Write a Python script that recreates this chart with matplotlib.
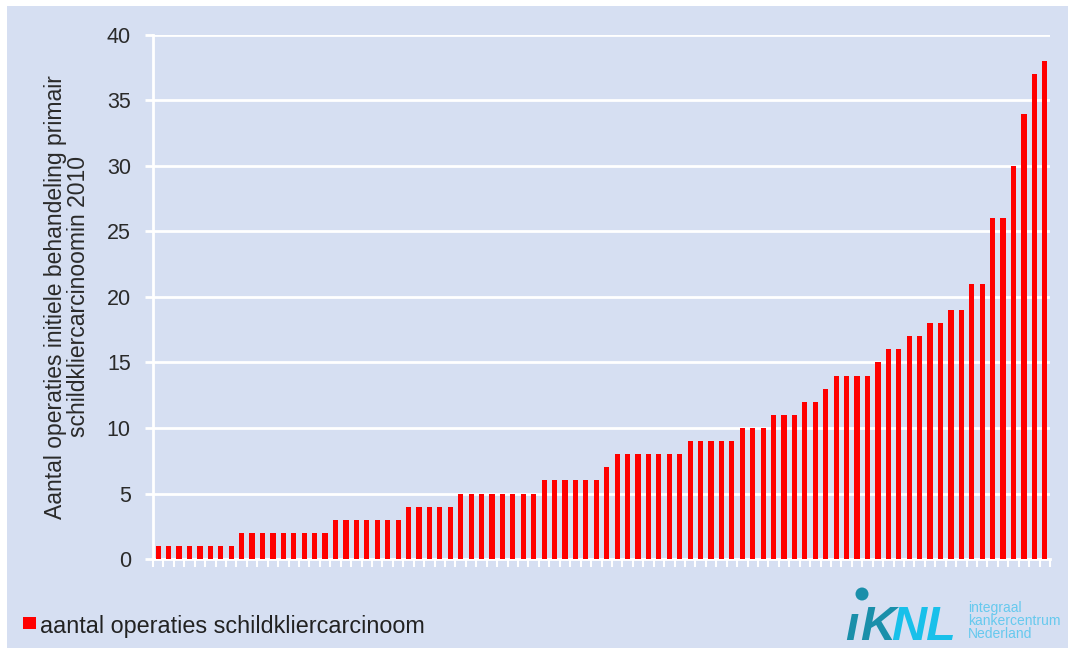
import matplotlib.pyplot as plt
from matplotlib.patches import Rectangle, Ellipse

# operaties per ziekenhuis, gesorteerd
values = [1, 1, 1, 1, 1, 1, 1, 1,
          2, 2, 2, 2, 2, 2, 2, 2, 2,
          3, 3, 3, 3, 3, 3, 3,
          4, 4, 4, 4, 4,
          5, 5, 5, 5, 5, 5, 5, 5,
          6, 6, 6, 6, 6, 6,
          7,
          8, 8, 8, 8, 8, 8, 8,
          9, 9, 9, 9, 9,
          10, 10, 10,
          11, 11, 11,
          12, 12,
          13,
          14, 14, 14, 14,
          15,
          16, 16,
          17, 17,
          18, 18,
          19, 19,
          21, 21,
          26, 26,
          30, 34, 37, 38]
yticks = [0, 5, 10, 15, 20, 25, 30, 35, 40]
ylabel = "Aantal operaties initiele behandeling primair\nschildkliercarcinoomin 2010"
legend_label = "aantal operaties schildkliercarcinoom"

bg = "#D6DFF2"
plt.rcParams['font.family'] = ['Liberation Sans', 'DejaVu Sans']

fig = plt.figure(figsize=(10.68, 6.48), dpi=100, facecolor="white")
fig.patches.append(Rectangle((7/1068, 0), 1, 642/648, transform=fig.transFigure,
                             facecolor=bg, edgecolor="none", zorder=-10))

ax = fig.add_axes([153/1068, 89/648, 897/1068, 524/648])
ax.set_facecolor(bg)
x = list(range(len(values)))
ax.bar(x, values, width=0.5, color="#FF0000", zorder=3)

ax.set_xlim(-0.5, len(values) - 0.5)
ax.set_ylim(0, 40)
ax.set_yticks(yticks)
ax.yaxis.grid(True, color="white", linewidth=2, zorder=1)
ax.set_axisbelow(True)
ax.set_xticks([i + 0.5 for i in range(-1, len(values))])
ax.set_xticklabels([])
ax.tick_params(axis="x", colors="white", length=6, width=1.5, direction="out")
ax.tick_params(axis="y", color="white", length=6, width=2, labelsize=15.5,
               labelcolor="#2a2a2a", pad=10)
for s in ["top", "right"]:
    ax.spines[s].set_visible(False)
for s in ["left", "bottom"]:
    ax.spines[s].set_color("white")
    ax.spines[s].set_linewidth(2)

ax.set_ylabel(ylabel, fontsize=16.5, color="#2a2a2a", linespacing=1.0)
ax.yaxis.set_label_coords(-63/897, 0.5)

# legend
fig.patches.append(Rectangle((23/1068, (648-629)/648), 13/1068, 12/648,
                             transform=fig.transFigure, facecolor="#FF0000",
                             edgecolor="none"))
fig.text(40/1068, (648-633)/648, legend_label, fontsize=16.8, color="#222222",
         va="baseline", ha="left")

# logo
teal = "#1A8FAA"
cyan = "#18C0EA"
fig.text(845/1068, (648-640)/648, "ı", fontsize=35, fontweight="bold", style="italic",
         color=teal, va="baseline")
fig.patches.append(Ellipse((862/1068, (648-594)/648), 13/1068, 13/648,
                           transform=fig.transFigure, facecolor=teal, edgecolor="none"))
fig.text(860/1068, (648-640)/648, "K", fontsize=35, fontweight="bold", style="italic",
         color=teal, va="baseline")
fig.text(891/1068, (648-640)/648, "NL", fontsize=35, fontweight="bold", style="italic",
         color=cyan, va="baseline")
fig.text(968/1068, (648-621)/648, "integraal\nkankercentrum\nNederland", fontsize=10,
         color="#66C9EE", va="center", ha="left", linespacing=0.88)

fig.savefig("out.png", dpi=100, facecolor="white")
